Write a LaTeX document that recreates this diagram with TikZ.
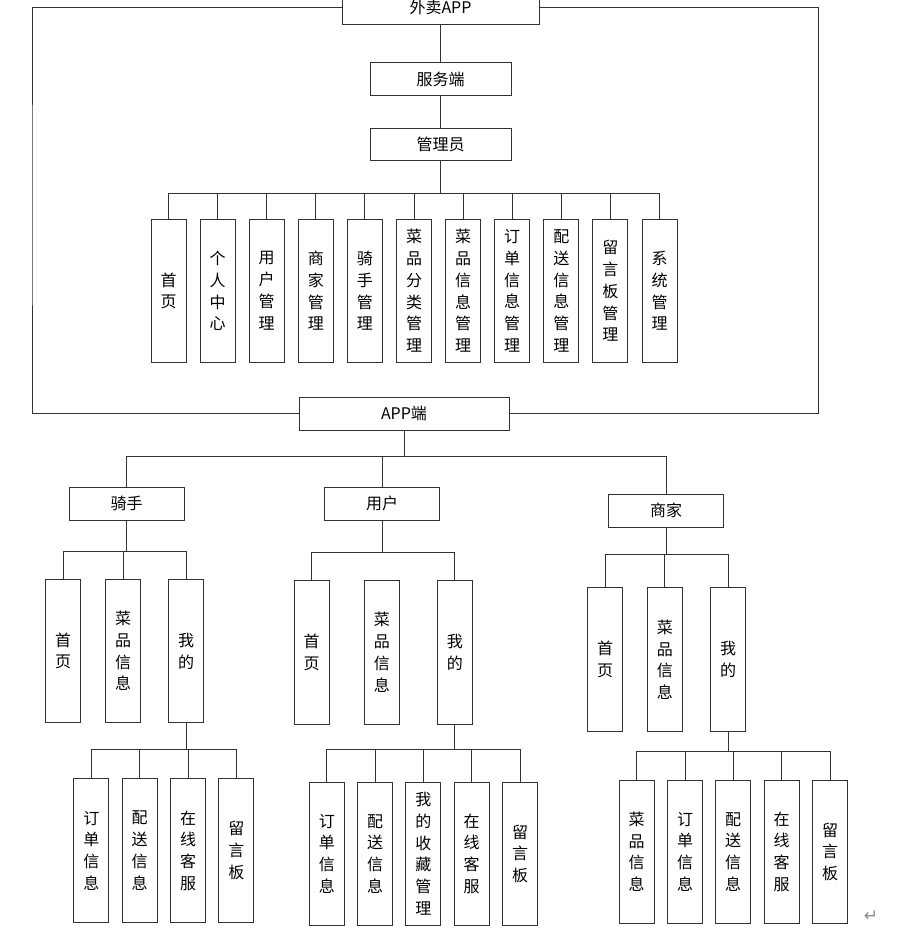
\documentclass[tikz,border=0pt]{standalone}
\usepackage{fontspec}
\setmainfont{Noto Sans CJK SC}
\newfontfamily\symfont{DejaVu Sans}
\begin{document}
\begin{tikzpicture}[x=1pt,y=-1pt,
  line width=1pt,
  hbox/.style={draw=black!80, rectangle, inner sep=0pt, minimum height=33pt,
    font=\fontsize{16}{18}\selectfont},
  vbox/.style={draw=black!80, rectangle, inner sep=0pt, minimum width=35pt,
    minimum height=143.5pt, align=center, font=\fontsize{16}{21.8}\selectfont},
  link/.style={draw=black!80, line width=1pt}]
\useasboundingbox (0,0) rectangle (898,933);
\fill[white] (0,0) rectangle (898,933);
\clip (0,0) rectangle (898,933);

% ---------- server side ----------
\node[hbox, minimum width=197pt] (top) at (440.5,7.6) {外卖APP};
\node[hbox, minimum width=141pt] (srv) at (440.5,79.5) {服务端};
\node[hbox, minimum width=141pt, minimum height=32pt] (adm) at (440.5,144.2) {管理员};
\node[hbox, minimum width=210pt] (app) at (404,413.5) {APP端};

\coordinate (admbus) at (440.5,194);
\coordinate (frameL) at (32,200);
\coordinate (frameR) at (818,200);

\draw[link] (top) -- (srv);
\draw[link] (srv) -- (adm);
\draw[link] (adm) -- (admbus);
\draw[link] (top.west) -| (frameL) |- (app.west);
\draw[link] (top.east) -| (frameR) |- (app.east);

\foreach \i/\t in {0/首\\页, 1/个\\人\\中\\心, 2/用\\户\\管\\理, 3/商\\家\\管\\理,
    4/骑\\手\\管\\理, 5/菜\\品\\分\\类\\管\\理, 6/菜\\品\\信\\息\\管\\理,
    7/订\\单\\信\\息\\管\\理, 8/配\\送\\信\\息\\管\\理, 9/留\\言\\板\\管\\理,
    10/系\\统\\管\\理} {
  \node[vbox] (a\i) at ({168.5+49.1*\i},290.9) {\t};
  \draw[link] (a\i.north) |- (admbus);
}

% ---------- app side ----------
\node[hbox, minimum width=114.7pt] (rider) at (126.7,503.7) {骑手};
\node[hbox, minimum width=114.6pt] (user) at (382,503.7) {用户};
\node[hbox, minimum width=114.6pt] (shop) at (666,510.8) {商家};

\coordinate (appbus) at (404,456);
\draw[link] (app) -- (appbus);
\draw[link] (rider.north) |- (appbus);
\draw[link] (user.north) |- (appbus);
\draw[link] (shop.north) |- (appbus);

% rider
\coordinate (rbus) at (126.7,551);
\draw[link] (rider) -- (rbus);
\node[vbox] (r1) at (63.2,651) {首\\页};
\node[vbox] (r2) at (123,651) {菜\\品\\信\\息};
\node[vbox] (r3) at (186.2,651) {我\\的};
\foreach \k in {1,2,3} { \draw[link] (r\k.north) |- (rbus); }
\coordinate (r3bus) at (186.2,749.3);
\draw[link] (r3) -- (r3bus);
\foreach \i/\x/\t in {1/91.3/订\\单\\信\\息, 2/139.7/配\\送\\信\\息,
    3/188/在\\线\\客\\服, 4/236.3/留\\言\\板} {
  \node[vbox] (rg\i) at (\x,850.7) {\t};
  \draw[link] (rg\i.north) |- (r3bus);
}

% user
\coordinate (ubus) at (382,552.7);
\draw[link] (user) -- (ubus);
\node[vbox] (u1) at (311.7,652.3) {首\\页};
\node[vbox] (u2) at (381.8,652.3) {菜\\品\\信\\息};
\node[vbox] (u3) at (454.8,652.3) {我\\的};
\draw[link] (u1.north) |- (ubus);
\draw[link] (u3.north) |- (ubus);
\coordinate (u3bus) at (454.8,749.3);
\draw[link] (u3) -- (u3bus);
\foreach \i/\x/\t in {1/326.8/订\\单\\信\\息, 2/375/配\\送\\信\\息,
    3/423.3/我\\的\\收\\藏\\管\\理, 4/471.7/在\\线\\客\\服, 5/520/留\\言\\板} {
  \node[vbox] (ug\i) at (\x,853.8) {\t};
  \draw[link] (ug\i.north) |- (u3bus);
}

% shop
\coordinate (sbus) at (666,554);
\draw[link] (shop) -- (sbus);
\node[vbox] (s1) at (605,659.7) {首\\页};
\node[vbox] (s2) at (664.8,659.7) {菜\\品\\信\\息};
\node[vbox] (s3) at (728,659.7) {我\\的};
\foreach \k in {1,2,3} { \draw[link] (s\k.north) |- (sbus); }
\coordinate (s3bus) at (728,751.7);
\draw[link] (s3) -- (s3bus);
\foreach \i/\x/\t in {1/636.7/菜\\品\\信\\息, 2/685/订\\单\\信\\息,
    3/733.2/配\\送\\信\\息, 4/781.7/在\\线\\客\\服, 5/830/留\\言\\板} {
  \node[vbox] (sg\i) at (\x,851.8) {\t};
  \draw[link] (sg\i.north) |- (s3bus);
}

% paragraph mark
\node[text=black!45, font=\symfont\fontsize{17}{17}\selectfont] (pm) at (871,916) {↵};
\end{tikzpicture}
\end{document}
